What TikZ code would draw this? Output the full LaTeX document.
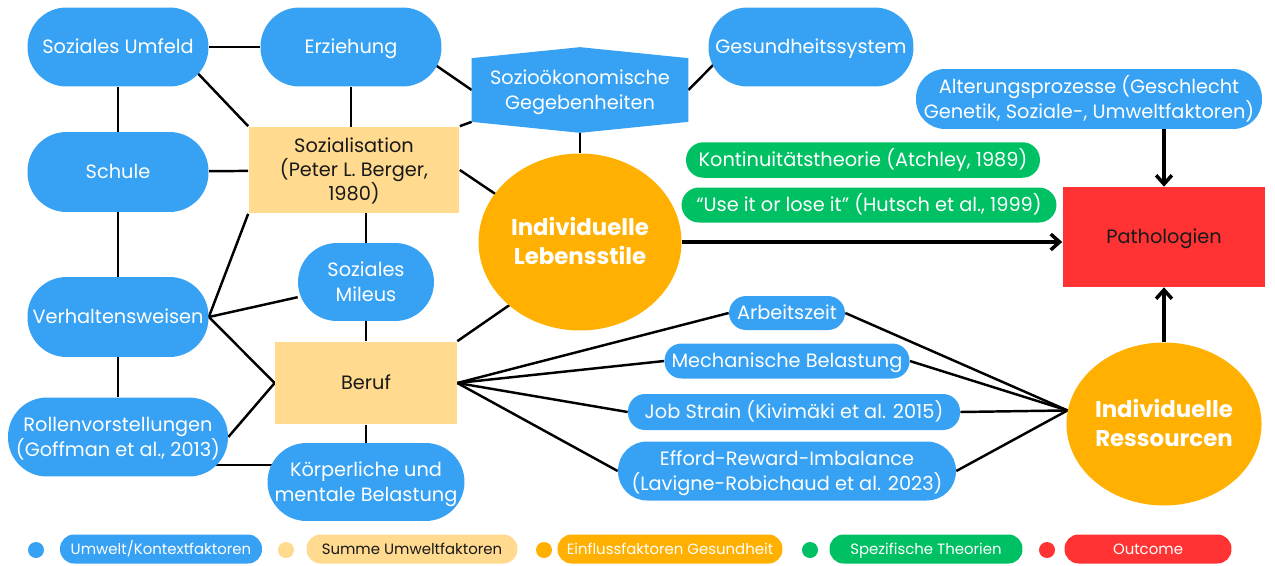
\documentclass[tikz,border=0pt]{standalone}
\usepackage{fontspec}
\setmainfont{Poppins}
\usepackage{xcolor}
\usepackage{tikz}
\usetikzlibrary{shapes.geometric,arrows.meta,positioning,calc,backgrounds}

\pgfdeclarelayer{hexlayer}
\pgfsetlayers{background,hexlayer,main}

\definecolor{umweltblue}{HTML}{37A2F4}
\definecolor{summeorange}{HTML}{FFDA8F}
\definecolor{einflussorange}{HTML}{FFB000}
\definecolor{theoriegreen}{HTML}{00C064}
\definecolor{outcomered}{HTML}{FF3333}

\newcommand\textstrut{\rule[-3.3pt]{0pt}{14.3pt}}
\newcommand\boldstrut{\rule[-3.4pt]{0pt}{15.9pt}}
\newcommand\smallstrut{\rule[-2.2pt]{0pt}{10.4pt}}

\begin{document}
\begin{tikzpicture}[
  x=0.02cm, y=-0.02cm,
  plaintext/.style={inner sep=0pt, align=center, font=\fontsize{11}{14}\selectfont, execute at begin node=\textstrut, execute at end node=\textstrut},
  umwelt/.style={plaintext, rectangle, fill=umweltblue, text=white, rounded corners=0.78cm, minimum height=1.58cm},
  schmal/.style={umwelt, rounded corners=0.34cm, minimum height=0.70cm},
  summe/.style={plaintext, rectangle, fill=summeorange, text=black!90, font=\fontsize{11}{13.6}\selectfont},
  einfluss/.style={ellipse, fill=einflussorange, text=white, align=center, inner sep=0pt, font=\fontsize{13}{16.5}\selectfont\bfseries, execute at begin node=\boldstrut, execute at end node=\boldstrut},
  theorie/.style={plaintext, rectangle, fill=theoriegreen, text=white, rounded corners=0.35cm, minimum height=0.71cm},
  link/.style={line width=1.4pt},
  arrow/.style={-{Straight Barb[length=5pt,width=9pt]}, line width=2pt},
  legenddot/.style={circle, inner sep=0pt, minimum size=0.32cm},
  legendbox/.style={rectangle, rounded corners=0.28cm, minimum height=0.58cm, inner sep=0pt, text=white, font=\fontsize{8.5}{10}\selectfont, execute at begin node=\smallstrut}
]
\useasboundingbox (0,0) rectangle (1275,565);

\node[umwelt, minimum width=3.62cm] (umfeld) at (118,47) {Soziales Umfeld};
\node[umwelt, minimum width=3.62cm] (erziehung) at (351,47) {Erziehung};
\node[umwelt, minimum width=4.10cm] (gesundheit) at (811,47) {Gesundheitssystem};
\node[umwelt, minimum width=3.62cm, minimum height=1.60cm] (schule) at (118,172) {Schule};
\node[umwelt, minimum width=3.62cm, minimum height=1.60cm] (verhalten) at (118,317) {Verhaltensweisen};
\node[umwelt, minimum width=4.40cm] (rollen) at (118,437) {\textstrut Rollenvorstellungen\\(Goffman et al., 2013)};
\node[umwelt, minimum width=2.72cm, minimum height=1.56cm] (milieu) at (366,282) {\textstrut Soziales\\Mileus};
\node[umwelt, minimum width=3.94cm, minimum height=1.56cm] (koerper) at (366,482) {\textstrut Körperliche und\\mentale Belastung};
\node[umwelt, fill=none, sharp corners, minimum width=4.32cm, minimum height=1.26cm] (soziooek) at (580,90) {\textstrut Sozioökonomische\\Gegebenheiten};
\begin{pgfonlayer}{hexlayer}
\fill[umweltblue] (soziooek.north west) -- ($(soziooek.north)+(0,-11)$) -- (soziooek.north east) -- (soziooek.south east) -- ($(soziooek.south)+(0,11)$) -- (soziooek.south west) -- cycle;
\end{pgfonlayer}

\node[summe, minimum width=4.22cm, minimum height=1.74cm] (sozialisation) at (354,170) {\textstrut Sozialisation\\(Peter L. Berger,\\1980)};
\node[summe, minimum width=3.64cm, minimum height=1.66cm] (beruf) at (366,383) {Beruf};
\node[einfluss, minimum width=4.06cm, minimum height=3.54cm] (lebensstile) at (580,242) {\boldstrut Individuelle\\Lebensstile};
\node[einfluss, minimum width=3.74cm, minimum height=3.26cm] (ressourcen) at (1164,424) {\boldstrut Individuelle\\Ressourcen};
\node[plaintext, rectangle, fill=outcomered, text=black!90, minimum width=4.06cm, minimum height=2.00cm] (pathologien) at (1164,237) {Pathologien};
\node[umwelt, rounded corners=0.58cm, minimum width=6.92cm, minimum height=1.20cm] (altern) at (1089,99) {\textstrut Alterungsprozesse (Geschlecht\\Genetik, Soziale-, Umweltfaktoren)};
\node[theorie, minimum width=7.08cm] (kontinuitaet) at (863,160) {Kontinuitätstheorie (Atchley, 1989)};
\node[theorie, minimum width=7.50cm, minimum height=0.70cm] (useit) at (869,205) {“Use it or lose it” (Hutsch et al., 1999)};
\node[schmal, minimum width=2.32cm, minimum height=0.68cm] (arbeitszeit) at (787,313) {Arbeitszeit};
\node[schmal, minimum width=4.90cm] (mechanisch) at (787,361) {Mechanische Belastung};
\node[schmal, minimum width=6.64cm, minimum height=0.72cm] (jobstrain) at (794,412) {Job Strain (Kivimäki et al. 2015)};
\node[umwelt, rounded corners=0.58cm, minimum width=6.76cm, minimum height=1.18cm] (effort) at (787,471) {\textstrut Efford-Reward-Imbalance\\(Lavigne-Robichaud et al. 2023)};

\begin{scope}[on background layer]
\draw[link] (umfeld) -- (erziehung);
\draw[link] (umfeld) -- (schule);
\draw[link] (schule) -- (verhalten);
\draw[link] (verhalten) -- (rollen);
\draw[link] ($(umfeld)+(31,-25)$) -- (sozialisation.north west);
\draw[link] (erziehung) -- (erziehung |- sozialisation);
\draw[link] ($(erziehung)+(19,-27)$) -- (soziooek.west);
\draw[link] (schule) -- (sozialisation);
\draw[link] (sozialisation.north east) -- (soziooek.south west);
\draw[link] (sozialisation.east) -- ($(lebensstile)+(-18,-3)$);
\draw[link] (soziooek) -- (lebensstile);
\draw[link] (soziooek.east) -- ($(gesundheit)+(-65,-15)$);
\draw[link] (milieu) -- (milieu |- sozialisation);
\draw[link] (verhalten.east) -- (sozialisation.south west);
\draw[link] (verhalten.east) -- (milieu);
\draw[link] (verhalten.east) -- (beruf.west);
\draw[link] (rollen.east) -- (beruf.west);
\draw[link] (milieu) -- (beruf);
\draw[link] (beruf) -- (koerper);
\draw[link] ($(rollen)+(0,28)$) -- ($(koerper)+(0,-17)$);
\draw[link] (beruf.north east) -- ($(lebensstile)+(-17,26)$);
\draw[link] (beruf.east) -- (arbeitszeit.west);
\draw[link] (beruf.east) -- (mechanisch.west);
\draw[link] (beruf.east) -- (jobstrain.west);
\draw[link] (beruf.east) -- (effort.west);
\draw[link] (arbeitszeit.east) -- (ressourcen.172);
\draw[link] (mechanisch.east) -- (ressourcen.172);
\draw[link] (jobstrain.east) -- (ressourcen.172);
\draw[link] (effort.east) -- (ressourcen.172);
\end{scope}

\draw[arrow] (lebensstile.east) -- (lebensstile.east -| pathologien.west);
\draw[arrow] (altern.south -| pathologien.north) -- (pathologien.north);
\draw[arrow] (ressourcen.north) -- (pathologien.south);

\node[legenddot, fill=umweltblue] (dotumwelt) at (36,550) {};
\node[legendbox, fill=umweltblue, minimum width=4.04cm] (legumwelt) at (161,549) {Umwelt/Kontextfaktoren};
\node[legenddot, fill=summeorange] (dotsumme) at (286,550) {};
\node[legendbox, fill=summeorange, text=black!90, minimum width=4.22cm] (legsumme) at (412,549) {Summe Umweltfaktoren};
\node[legenddot, fill=einflussorange] (doteinfluss) at (544,550) {};
\node[legendbox, fill=einflussorange, minimum width=4.50cm] (legeinfluss) at (670,549) {Einflussfaktoren Gesundheit};
\node[legenddot, fill=theoriegreen] (dottheorie) at (810,550) {};
\node[legendbox, fill=theoriegreen, minimum width=3.86cm] (legtheorie) at (926,549) {Spezifische Theorien};
\node[legenddot, fill=outcomered] (dotoutcome) at (1047,550) {};
\node[legendbox, fill=outcomered, minimum width=3.34cm] (legoutcome) at (1148,549) {Outcome};
\end{tikzpicture}
\end{document}
